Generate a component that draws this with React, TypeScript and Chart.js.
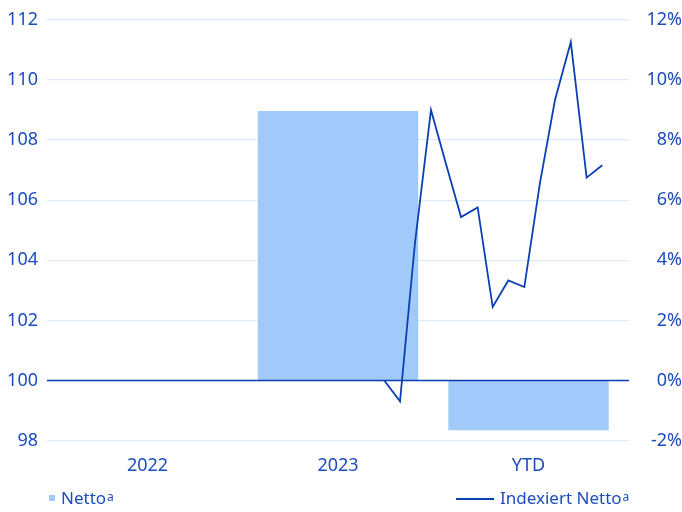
import React, { useEffect, useRef } from "react";
import { Chart, registerables } from "chart.js";

Chart.register(...registerables);

const categories = ["2022", "2023", "YTD"];
const nettoPct = [0, 8.97, -1.65];
const indexX = [1.243, 1.3255, 1.404, 1.488, 1.567, 1.646, 1.733, 1.812, 1.894, 1.978, 2.06, 2.139, 2.222, 2.305, 2.387];
const indexVal = [100, 99.31, 104.57, 109.0, 107.2, 105.44, 105.76, 102.45, 103.33, 103.11, 106.57, 109.33, 111.26, 106.75, 107.16];
const leftRange = [98, 112];
const rightRange = [-2, 12];

const BAR = "#A1C9FA";
const LINE = "#0B40B3";
const TEXT = "#1B4DBE";
const GRID = "#DDEBFB";
const FONT = "'Noto Sans', 'Open Sans', sans-serif";

const zeroLine = {
  id: "zeroLine",
  afterDatasetsDraw(chart: any) {
    const y = chart.scales.yL.getPixelForValue(100);
    const { left, right } = chart.chartArea;
    const ctx = chart.ctx;
    ctx.save();
    ctx.strokeStyle = LINE;
    ctx.lineWidth = 1.4;
    ctx.beginPath();
    ctx.moveTo(left, y);
    ctx.lineTo(right, y);
    ctx.stroke();
    ctx.restore();
  },
};

export default function App() {
  const ref = useRef<HTMLCanvasElement>(null);
  useEffect(() => {
    if (!ref.current) return;
    const chart = new Chart(ref.current, {
      type: "bar",
      data: {
        datasets: [
          {
            type: "line",
            label: "Indexiert Netto",
            data: indexX.map((x, i) => ({ x, y: indexVal[i] })),
            borderColor: LINE,
            borderWidth: 1.8,
            pointRadius: 0,
            tension: 0,
            yAxisID: "yL",
            xAxisID: "x",
            order: 0,
          } as any,
          {
            type: "bar",
            label: "Netto",
            data: nettoPct.map((y, i) => ({ x: i, y })),
            backgroundColor: BAR,
            borderWidth: 0,
            barPercentage: 0.842,
            categoryPercentage: 1,
            yAxisID: "yR",
            xAxisID: "x",
            order: 1,
          } as any,
        ],
      },
      options: {
        animation: false,
        responsive: true,
        maintainAspectRatio: false,
        layout: { padding: { top: 17.7, left: 0, right: 0, bottom: 0 } },
        plugins: { legend: { display: false }, tooltip: { enabled: false } },
        scales: {
          x: {
            type: "linear",
            offset: false,
            min: -0.5275,
            max: 2.5275,
            grid: { display: false, drawTicks: false, offset: false },
            border: { display: false },
            afterBuildTicks: (s: any) => {
              s.ticks = categories.map((_, i) => ({ value: i }));
            },
            afterFit: (s: any) => {
              s.height = 71.3;
            },
            ticks: {
              padding: 14,
              color: TEXT,
              font: { family: FONT, size: 18 },
              callback: (v: any) => categories[v] ?? "",
            },
          },
          yL: {
            type: "linear",
            position: "left",
            min: leftRange[0],
            max: leftRange[1],
            grid: { color: GRID, lineWidth: 1.3, drawTicks: false },
            border: { display: false },
            afterFit: (s: any) => {
              s.width = 47;
            },
            ticks: {
              stepSize: 2,
              padding: 9,
              color: TEXT,
              font: { family: FONT, size: 18 },
            },
          },
          yR: {
            type: "linear",
            position: "right",
            min: rightRange[0],
            max: rightRange[1],
            grid: { display: false, drawTicks: false },
            border: { display: false },
            afterFit: (s: any) => {
              s.width = 53;
            },
            ticks: {
              stepSize: 2,
              padding: 6,
              crossAlign: "far",
              color: TEXT,
              font: { family: FONT, size: 18 },
              callback: (v: any) => `${v}%`,
            },
          },
        },
      },
      plugins: [zeroLine],
    });
    return () => chart.destroy();
  }, []);

  const legendText: React.CSSProperties = {
    position: "absolute",
    top: 486,
    fontFamily: FONT,
    fontSize: 17,
    color: TEXT,
    lineHeight: "24px",
    whiteSpace: "nowrap",
  };
  const supStyle: React.CSSProperties = { fontSize: 12, verticalAlign: "top", position: "relative", top: -1, marginLeft: 1 };

  return (
    <div style={{ position: "absolute", left: 0, top: 0, width: 682, height: 512, background: "#fff" }}>
      <canvas ref={ref} width={682} height={512} />
      <div style={{ position: "absolute", left: 49, top: 495, width: 6, height: 6, background: BAR }} />
      <div style={{ ...legendText, left: 61 }}>
        Netto<sup style={supStyle}>a</sup>
      </div>
      <div style={{ position: "absolute", left: 456, top: 498, width: 38, height: 2, background: LINE }} />
      <div style={{ ...legendText, left: 500 }}>
        Indexiert Netto<sup style={supStyle}>a</sup>
      </div>
    </div>
  );
}
